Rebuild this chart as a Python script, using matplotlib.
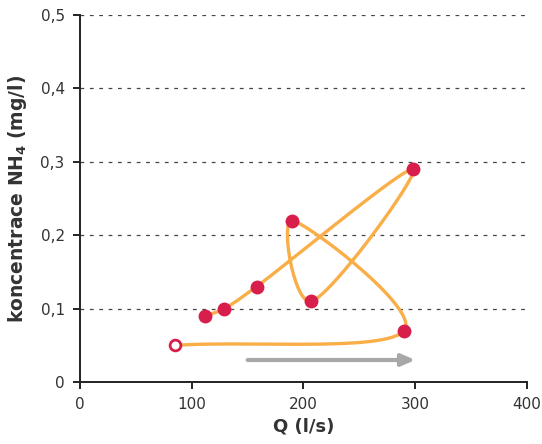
import numpy as np
import matplotlib
matplotlib.use("Agg")
import matplotlib.pyplot as plt

# Průtok Q (l/s) a koncentrace NH4 (mg/l) v pořadí měření
flow = [85, 290, 190, 207, 298, 158, 129, 112]
conc = [0.05, 0.07, 0.22, 0.11, 0.29, 0.13, 0.10, 0.09]

x_ticks = [0, 100, 200, 300, 400]
y_ticks = [0, 0.1, 0.2, 0.3, 0.4, 0.5]
y_tick_labels = ["0", "0,1", "0,2", "0,3", "0,4", "0,5"]

# směr hysterezní smyčky
arrow_from = (150, 0.030)
arrow_to = (300, 0.030)

LINE = "#F9AE48"
DOT = "#D81F4B"
TEXT = "#333333"


def catmull_rom(xs, ys, n=60, alpha=0.2):
    pts = np.column_stack([xs, ys]).astype(float)
    scale = np.array([1.0, 1000.0])  # comparable units on both axes
    p = pts * scale
    p = np.vstack([2 * p[0] - p[1], p, 2 * p[-1] - p[-2]])
    out = []
    for i in range(1, len(p) - 2):
        p0, p1, p2, p3 = p[i - 1], p[i], p[i + 1], p[i + 2]
        t0 = 0.0
        t1 = t0 + np.linalg.norm(p1 - p0) ** alpha
        t2 = t1 + np.linalg.norm(p2 - p1) ** alpha
        t3 = t2 + np.linalg.norm(p3 - p2) ** alpha
        t = np.linspace(t1, t2, n)[:, None]
        a1 = (t1 - t) / (t1 - t0) * p0 + (t - t0) / (t1 - t0) * p1
        a2 = (t2 - t) / (t2 - t1) * p1 + (t - t1) / (t2 - t1) * p2
        a3 = (t3 - t) / (t3 - t2) * p2 + (t - t2) / (t3 - t2) * p3
        b1 = (t2 - t) / (t2 - t0) * a1 + (t - t0) / (t2 - t0) * a2
        b2 = (t3 - t) / (t3 - t1) * a2 + (t - t1) / (t3 - t1) * a3
        c = (t2 - t) / (t2 - t1) * b1 + (t - t1) / (t2 - t1) * b2
        out.append(c)
    curve = np.vstack(out) / scale
    return curve[:, 0], curve[:, 1]


plt.rcParams["font.family"] = ["DejaVu Sans"]

fig = plt.figure(figsize=(5.42, 4.44), dpi=100)
ax = fig.add_axes([0.1476, 0.1396, 0.8247, 0.8266])

cx, cy = catmull_rom(flow, conc)
ax.plot(cx, cy, color=LINE, lw=2.4, solid_capstyle="round", zorder=2)
ax.scatter(flow[1:], conc[1:], s=100, color=DOT, zorder=3, linewidths=0)
ax.scatter(flow[:1], conc[:1], s=60, facecolor="white", edgecolor=DOT,
           linewidths=2, zorder=3)

ax.annotate("", xy=arrow_to, xytext=arrow_from,
            arrowprops=dict(arrowstyle="-|>,head_length=0.8,head_width=0.35",
                            color="#A7A8AA", lw=3, shrinkA=0, shrinkB=0))

ax.set_xlim(0, 400)
ax.set_ylim(0, 0.5)
ax.set_xticks(x_ticks)
ax.set_yticks(y_ticks)
ax.set_yticklabels(y_tick_labels)

for y in y_ticks[1:]:
    ax.axhline(y, color="#444444", lw=0.9, ls=(0, (3, 4.5)), zorder=1)

for side in ("top", "right"):
    ax.spines[side].set_visible(False)
for side in ("left", "bottom"):
    ax.spines[side].set_color("#222222")
    ax.spines[side].set_linewidth(1.4)

ax.tick_params(axis="both", direction="out", length=5, width=1.4,
               color="#222222", labelsize=11, labelcolor=TEXT, pad=6)

ax.set_xlabel("Q (l/s)", fontsize=13, fontweight="bold", color=TEXT, labelpad=4)
ax.set_ylabel(r"koncentrace NH$_\mathbf{4}$ (mg/l)", fontsize=13.5,
              fontweight="bold", color=TEXT, labelpad=8)

fig.savefig("out.png", dpi=100)
